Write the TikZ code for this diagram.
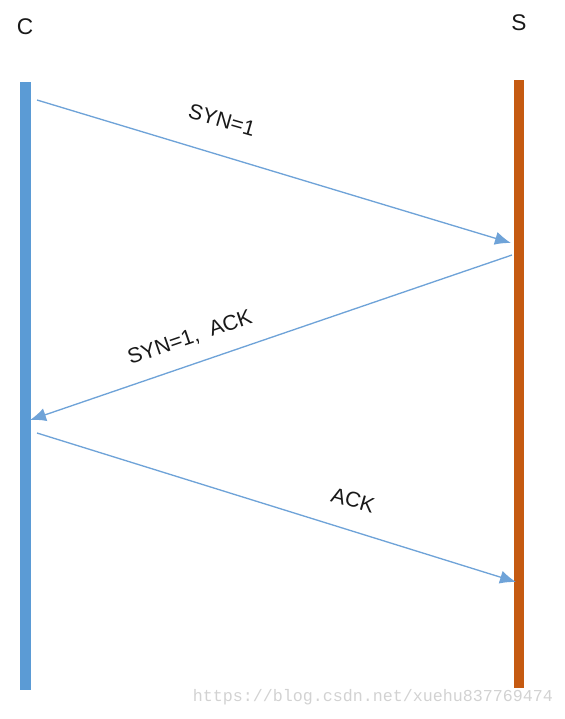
\documentclass[tikz,border=0pt]{standalone}
\usepackage{fontspec}
\setmainfont{Liberation Sans}
\setmonofont{Liberation Mono}
\usetikzlibrary{arrows.meta}
\definecolor{clientblue}{HTML}{5B9BD5}
\definecolor{serverorange}{HTML}{C55A11}
\definecolor{msgblue}{HTML}{6FA3D8}
\definecolor{markgray}{HTML}{D2D2D2}

\begin{document}
\begin{tikzpicture}[
  x=0.75pt, y=-0.75pt,
  party/.style={font=\fontsize{17}{19}\selectfont, text=black!90},
  msg/.style={-{Latex[length=12pt,width=10pt]}, line width=1pt, draw=msgblue},
  msglabel/.style={font=\fontsize{16}{18}\selectfont, text=black!90}
]
  \useasboundingbox (0,0) rectangle (565,719);
  % lifelines
  \fill[clientblue] (20,82) rectangle (31,690);
  \fill[serverorange] (514,80) rectangle (524,688);
  \node[party] (client) at (25,27) {C};
  \node[party] (server) at (519,23) {S};
  % message ends
  \coordinate (c1) at (37,100);
  \coordinate (s1) at (511,243);
  \coordinate (s2) at (512,255);
  \coordinate (c2) at (30,420);
  \coordinate (c3) at (37,433);
  \coordinate (s3) at (516,582);
  \draw[msg] (c1) -- (s1);
  \draw[msg] (s2) -- (c2);
  \draw[msg] (c3) -- (s3);
  \node[msglabel, rotate=-16] (syn) at (222,120) {SYN=1};
  \node[msglabel, rotate=19] (synack) at (190,338) {SYN=1,\ \ ACK};
  \node[msglabel, rotate=-16] (ack) at (353,500) {ACK};
  \node[font=\ttfamily\fontsize{12.5}{14}\selectfont, text=markgray] (mark) at (373,697) {https://blog.csdn.net/xuehu837769474};
\end{tikzpicture}
\end{document}
